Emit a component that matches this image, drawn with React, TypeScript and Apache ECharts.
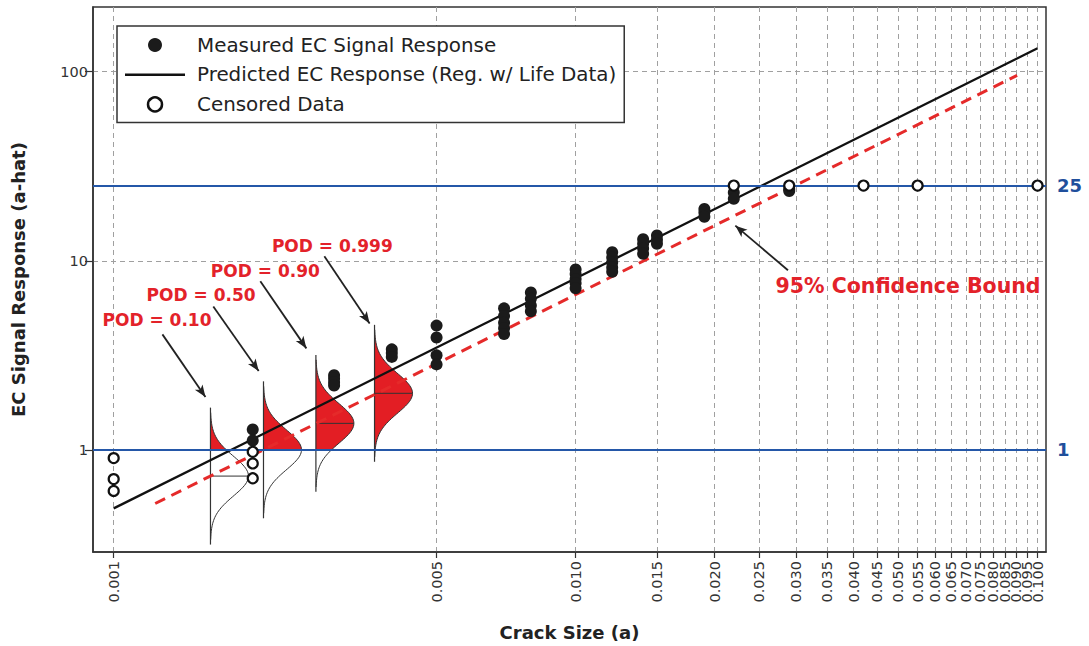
import React, { useEffect, useRef } from 'react';
import * as echarts from 'echarts';

const FONT = '"DejaVu Sans", Verdana, sans-serif';

// Axis ticks
const xTicks = [0.001, 0.005, 0.010, 0.015, 0.020, 0.025, 0.030, 0.035, 0.040, 0.045, 0.050,
  0.055, 0.060, 0.065, 0.070, 0.075, 0.080, 0.085, 0.090, 0.095, 0.100];
const xTicksCrowded = [0.095]; // label drawn on an overlay axis so it is not auto-hidden
const yTicks = [1, 10, 100];

// Measured EC signal response (crack size, a-hat)
const measuredX = [
  0.002, 0.002,
  0.003, 0.003, 0.003, 0.003,
  0.004, 0.004, 0.004,
  0.005, 0.005, 0.005, 0.005,
  0.007, 0.007, 0.007, 0.007, 0.007,
  0.008, 0.008, 0.008, 0.008,
  0.010, 0.010, 0.010, 0.010, 0.010,
  0.012, 0.012, 0.012, 0.012, 0.012,
  0.014, 0.014, 0.014, 0.014,
  0.015, 0.015, 0.015,
  0.019, 0.019, 0.019,
  0.022, 0.022,
  0.029, 0.029,
];
const measuredY = [
  1.28, 1.12,
  2.48, 2.38, 2.28, 2.19,
  3.4, 3.25, 3.1,
  4.54, 3.93, 3.16, 2.83,
  5.6, 5.1, 4.7, 4.4, 4.1,
  6.8, 6.3, 5.8, 5.4,
  9.0, 8.5, 8.0, 7.6, 7.15,
  11.1, 10.4, 9.8, 9.2, 8.75,
  13.0, 12.3, 11.6, 10.9,
  13.6, 12.9, 12.3,
  18.8, 18.0, 17.1,
  23.0, 21.3,
  24.0, 23.4,
];

// Censored data
const censoredX = [0.001, 0.001, 0.001, 0.002, 0.002, 0.002, 0.022, 0.029, 0.042, 0.055, 0.100];
const censoredY = [0.904, 0.70, 0.606, 0.976, 0.847, 0.707, 25, 25, 25, 25, 25];

// Regression line and 95% bound (end points)
const regX = [0.001, 0.1];
const regY = [0.49, 133];
const boundX = [0.00123, 0.0903];
const boundY = [0.52, 95.7];

// Thresholds
const threshold = 1;
const saturation = 25;

// POD distributions
const podX = [0.00162, 0.00211, 0.00274, 0.00367];
const podMean = [0.726, 1.0, 1.38, 1.99];
const podSigma = 0.105; // log10 units
const podLabels = ['POD = 0.10', 'POD = 0.50', 'POD = 0.90', 'POD = 0.999'];
const podLabelPos: [number, number][] = [[0.001241, 4.85], [0.001546, 6.63], [0.00213, 8.88], [0.002974, 11.93]];
const podArrowFrom: [number, number][] = [[0.001275, 4.08], [0.001643, 5.73], [0.002077, 7.8], [0.002858, 10.56]];
const podArrowTo: [number, number][] = [[0.00158, 1.9], [0.00206, 2.61], [0.002613, 3.44], [0.003581, 4.66]];

const boundLabel = '95% Confidence Bound';
const boundLabelPos: [number, number] = [0.05243, 7.34];
const boundArrowFrom: [number, number] = [0.02882, 8.91];
const boundArrowTo: [number, number] = [0.02217, 15.34];

export default function App() {
  const ref = useRef<HTMLDivElement>(null);

  useEffect(() => {
    if (!ref.current) return;
    const chart = echarts.init(ref.current, undefined, { renderer: 'svg' });

    const zip = (xs: number[], ys: number[]) => xs.map((x, i) => [x, ys[i]]);

    const arrowItems = [
      ...podArrowFrom.map((f, i) => [f, podArrowTo[i]]),
      [boundArrowFrom, boundArrowTo],
    ].map(([a, b]) => [
      { coord: a, symbol: 'none' },
      { coord: b, symbol: 'arrow', symbolSize: [7, 12] },
    ]);

    const redText = { color: '#e3222a', fontWeight: 'bold', fontSize: 17, fontFamily: FONT };
    const xLabelStyle = {
      rotate: 90, fontSize: 14.5, color: '#333', margin: 9, fontFamily: FONT,
      formatter: (v: number) => v.toFixed(3),
    };
    const xRange = { min: 0.000902, max: 0.1043 };

    const option: any = {
      animation: false,
      textStyle: { fontFamily: FONT },
      grid: {
        left: 93, right: 43, top: 7, bottom: 93,
        show: true, borderColor: '#333', borderWidth: 1.5, backgroundColor: 'transparent',
        containLabel: false,
      },
      legend: {
        left: 117, top: 26, orient: 'vertical',
        padding: [9, 8, 8, 8],
        borderColor: '#333', borderWidth: 1.5, backgroundColor: '#fff',
        itemWidth: 60, itemHeight: 14, itemGap: 9.7,
        selectedMode: false,
        textStyle: { fontSize: 19.9, color: '#222', fontFamily: FONT, lineHeight: 20, padding: [0, 0, 0, 7] },
        data: [
          { name: 'Measured EC Signal Response' },
          { name: 'Predicted EC Response (Reg. w/ Life Data)', icon: 'path://M0 0H60V2.5H0Z', itemStyle: { color: '#111' } },
          { name: 'Censored Data', itemStyle: { color: '#fff', borderColor: '#111', borderWidth: 2.5 } },
        ],
        z: 10,
      },
      xAxis: [
        {
          type: 'log', logBase: 10, ...xRange,
          name: 'Crack Size (a)', nameLocation: 'middle', nameGap: 71,
          nameTextStyle: { fontWeight: 'bold', fontSize: 18, color: '#222', fontFamily: FONT },
          axisLine: { show: true, lineStyle: { color: '#333', width: 1.5 } },
          axisTick: { show: true, inside: false, length: 6, customValues: xTicks, lineStyle: { color: '#333', width: 1.2 } },
          axisLabel: {
            ...xLabelStyle,
            customValues: xTicks.filter((v) => !xTicksCrowded.includes(v)),
            showMaxLabel: true, showMinLabel: true, hideOverlap: false,
          },
          splitLine: { show: true, lineStyle: { color: '#a0a0a0', type: [5, 4], width: 1 } },
          minorTick: { show: false }, minorSplitLine: { show: false },
        },
        {
          type: 'log', logBase: 10, ...xRange,
          position: 'bottom',
          axisLine: { show: false },
          axisTick: { show: false },
          splitLine: { show: false },
          axisLabel: { ...xLabelStyle, customValues: xTicksCrowded, showMaxLabel: true, showMinLabel: true },
          silent: true,
        },
      ],
      yAxis: {
        type: 'log', logBase: 10, min: 0.288, max: 220,
        name: 'EC Signal Response (a-hat)', nameLocation: 'middle', nameGap: 66, nameRotate: 90,
        nameTextStyle: { fontWeight: 'bold', fontSize: 18, color: '#222', fontFamily: FONT },
        axisLine: { show: true, lineStyle: { color: '#333', width: 1.5 } },
        axisTick: { show: true, inside: false, length: 8, customValues: yTicks, lineStyle: { color: '#333', width: 1.2 } },
        axisLabel: {
          customValues: yTicks, fontSize: 14.5, color: '#333', margin: 5, fontFamily: FONT,
          formatter: (v: number) => String(Math.round(v)),
        },
        splitLine: { show: true, lineStyle: { color: '#a0a0a0', type: [5, 4], width: 1 } },
        minorTick: { show: false }, minorSplitLine: { show: false },
      },
      series: [
        {
          name: 'POD',
          type: 'custom',
          z: 1,
          silent: true,
          data: zip(podX, podMean),
          encode: { x: 0, y: 1 },
          renderItem: (params: any, api: any) => {
            const x = api.value(0) as number;
            const mean = api.value(1) as number;
            const lm = Math.log10(mean);
            const s = podSigma;
            const yAt = (k: number) => api.coord([x, Math.pow(10, lm + k * s)])[1];
            const bx = api.coord([x, mean])[0];
            const W = 38, K = 3.2, N = 80;
            const curve: number[][] = [];
            for (let i = 0; i <= N; i++) {
              const k = -K + (2 * K * i) / N;
              curve.push([bx + W * Math.exp(-k * k / 2), yAt(k)]);
            }
            const kT = (Math.log10(threshold) - lm) / s;
            const k0 = Math.max(-K, kT);
            const fill: number[][] = [[bx, yAt(k0)]];
            for (let i = 0; i <= N; i++) {
              const k = k0 + ((K - k0) * i) / N;
              fill.push([bx + W * Math.exp(-k * k / 2), yAt(k)]);
            }
            fill.push([bx, yAt(K)]);
            return {
              type: 'group',
              children: [
                { type: 'polygon', shape: { points: fill }, style: { fill: '#e31e24', stroke: 'none' } },
                { type: 'polyline', shape: { points: curve }, style: { fill: 'none', stroke: '#333', lineWidth: 1 } },
                { type: 'line', shape: { x1: bx, y1: yAt(-3.45), x2: bx, y2: yAt(3.45) }, style: { stroke: '#333', lineWidth: 1.2 } },
                { type: 'line', shape: { x1: bx, y1: yAt(0), x2: bx + W, y2: yAt(0) }, style: { stroke: '#333', lineWidth: 1 } },
              ],
            };
          },
        },
        {
          name: 'Predicted EC Response (Reg. w/ Life Data)',
          type: 'line',
          z: 3,
          data: zip(regX, regY),
          symbol: 'none',
          lineStyle: { color: '#111', width: 2.3 },
          itemStyle: { color: '#111' },
          silent: true,
          markLine: {
            silent: true,
            symbol: ['none', 'none'],
            animation: false,
            data: [
              {
                yAxis: threshold,
                lineStyle: { color: '#2457a8', width: 2, type: 'solid' },
                label: { show: true, position: 'end', distance: 11, formatter: String(threshold), color: '#1f4f9c', fontWeight: 'bold', fontSize: 18, fontFamily: FONT },
              },
              {
                yAxis: saturation,
                lineStyle: { color: '#2457a8', width: 2, type: 'solid' },
                label: { show: true, position: 'end', distance: 11, formatter: String(saturation), color: '#1f4f9c', fontWeight: 'bold', fontSize: 18, fontFamily: FONT },
              },
              ...arrowItems.map((pair) => [
                { ...pair[0], lineStyle: { color: '#222', width: 1.8, type: 'solid' }, label: { show: false } },
                { ...pair[1] },
              ]),
            ],
          },
          markPoint: {
            silent: true,
            symbol: 'circle',
            symbolSize: 0,
            itemStyle: { color: 'transparent' },
            data: [
              ...podLabels.map((t, i) => ({ name: t, coord: podLabelPos[i], label: { show: true, position: 'inside', formatter: t, ...redText } })),
              { name: boundLabel, coord: boundLabelPos, label: { show: true, position: 'inside', formatter: boundLabel, ...redText, fontSize: 20.5 } },
            ],
          },
        },
        {
          name: boundLabel,
          type: 'line',
          z: 3,
          data: zip(boundX, boundY),
          symbol: 'none',
          silent: true,
          lineStyle: { color: '#e52a2a', width: 3, type: [11, 7] },
          itemStyle: { color: '#e52a2a' },
        },
        {
          name: 'Measured EC Signal Response',
          type: 'scatter',
          z: 5,
          data: zip(measuredX, measuredY),
          symbol: 'circle',
          symbolSize: 12,
          itemStyle: { color: '#1b1b1b', opacity: 1 },
        },
        {
          name: 'Censored Data',
          type: 'scatter',
          z: 6,
          data: zip(censoredX, censoredY),
          symbol: 'circle',
          symbolSize: 10,
          itemStyle: { color: '#fff', borderColor: '#111', borderWidth: 2.2, opacity: 1 },
        },
      ],
    };

    chart.setOption(option);
    return () => chart.dispose();
  }, []);

  return <div ref={ref} style={{ position: 'fixed', left: 0, top: 0, width: 1089, height: 646, background: '#fff' }} />;
}
